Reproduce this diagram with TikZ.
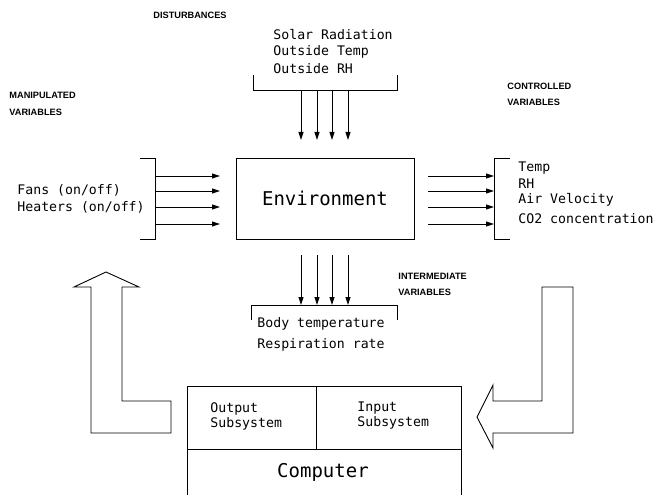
\documentclass[tikz,border=0pt]{standalone}
\usepackage{fontspec}
\setmainfont{DejaVu Sans}
\newfontfamily\monof{DejaVu Sans Mono}
\newfontfamily\labf{Liberation Sans}
\usetikzlibrary{arrows.meta}
\begin{document}
\begin{tikzpicture}[x=1pt,y=-1pt,line width=0.9pt,
  txt/.style={font=\monof\fontsize{13.2}{15}\selectfont,anchor=west,inner sep=0pt},
  big/.style={font=\monof\fontsize{19}{22}\selectfont,inner sep=0pt},
  smallcap/.style={font=\labf\bfseries\fontsize{9.2}{11}\selectfont,anchor=west,inner sep=0pt},
  arr/.style={-{Triangle[length=8pt,width=5pt]}},
  boxed/.style={draw,inner sep=0pt}]
\useasboundingbox (0,0) rectangle (657,495);
\fill[white] (0,0) rectangle (657,495);
% labels
\node[smallcap] (dist) at (153,15) {DISTURBANCES};
\node[smallcap] (man1) at (9,95) {MANIPULATED};
\node[smallcap] (man2) at (9,112) {VARIABLES};
\node[smallcap] (con1) at (507,86) {CONTROLLED};
\node[smallcap] (con2) at (507,102) {VARIABLES};
\node[smallcap] (int1) at (398,276) {INTERMEDIATE};
\node[smallcap] (int2) at (398,292) {VARIABLES};
% disturbances
\node[txt] (d1) at (273,35) {Solar Radiation};
\node[txt] (d2) at (273,52) {Outside Temp};
\node[txt] (d3) at (273,69) {Outside RH};
\coordinate (tbl) at (253,75);
\coordinate (tbr) at (397,75);
\draw (tbl) |- (397,90) -- (tbr);
% environment
\node[boxed,big,minimum width=178pt,minimum height=81pt] (env) at (325,198.5) {Environment};
\foreach \x [count=\i] in {301,317,332,348} {
  \coordinate (ts\i) at (\x,90);
  \coordinate (te\i) at (\x,140);
  \draw[arr] (ts\i) -- (te\i);
  \coordinate (bs\i) at (\x,255);
  \coordinate (be\i) at (\x,305);
  \draw[arr] (bs\i) -- (be\i);
}
% manipulated
\node[txt] (m1) at (17,190) {Fans (on/off)};
\node[txt] (m2) at (17,207) {Heaters (on/off)};
\draw (140,158) -- (155,158) -- (155,239) -- (140,239);
\foreach \y [count=\i] in {176,191,207,224} {
  \coordinate (ls\i) at (155,\y);
  \coordinate (le\i) at (220,\y);
  \draw[arr] (ls\i) -- (le\i);
  \coordinate (rs\i) at (428,\y);
  \coordinate (re\i) at (494,\y);
  \draw[arr] (rs\i) -- (re\i);
}
% controlled
\draw (510,158) -- (494,158) -- (494,239) -- (510,239);
\node[txt] (c1) at (518,168) {Temp};
\node[txt] (c2) at (518,184) {RH};
\node[txt] (c3) at (518,200) {Air Velocity};
\node[txt] (c4) at (518,219) {CO2 concentration};
% intermediate
\draw (251,320) -- (251,305) -- (397,305) -- (397,320);
\node[txt] (i1) at (257,324) {Body temperature};
\node[txt] (i2) at (257,345) {Respiration rate};
% computer (open at the bottom edge of the picture)
\node[inner sep=0pt,minimum width=274pt,minimum height=110pt,anchor=north west] (comp) at (187,386) {};
\draw (comp.south west) -- (comp.north west) -- (comp.north east) -- (comp.south east);
\draw (187,449) -- (461,449);
\draw (316,386) -- (316,449);
\node[txt,align=left] (outs) at (210,416) {Output\\Subsystem};
\node[txt,align=left] (ins) at (357,416) {Input\\Subsystem};
\node[big] (compt) at (323,472) {Computer};
% big arrows
\draw (106,272) -- (139,287) -- (122,287) -- (122,401) -- (171,401) -- (171,433) -- (91,433) -- (91,287) -- (74,287) -- cycle;
\draw (477,417) -- (493,385) -- (493,401) -- (542,401) -- (542,287) -- (573,287) -- (573,433) -- (493,433) -- (493,448) -- cycle;
\end{tikzpicture}
\end{document}
